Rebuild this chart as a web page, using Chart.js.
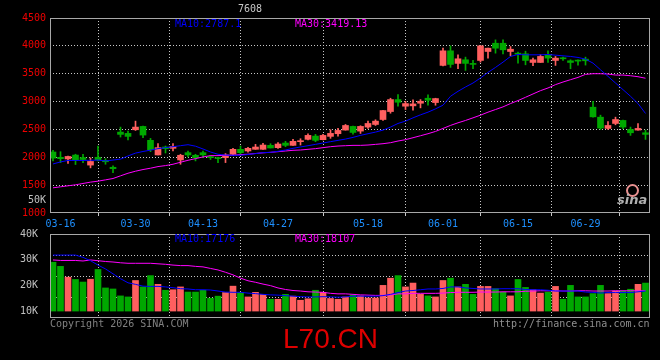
<!DOCTYPE html>
<html>
<head>
<meta charset="utf-8">
<script src="https://cdn.jsdelivr.net/npm/chart.js@4.4.1/dist/chart.umd.min.js"></script>
<style>
html, body { margin:0; padding:0; background:#000; }
#wrap { position:relative; width:660px; height:360px; overflow:hidden; background:#000;
        font-family:"DejaVu Sans Mono", monospace; font-size:10px; line-height:10px; }
canvas { position:absolute; left:0; top:0; }
.t { position:absolute; white-space:nowrap; }
</style>
</head>
<body>
<div id="wrap">
<canvas id="kChart" width="660" height="360"></canvas>
<canvas id="volChart" width="660" height="360"></canvas>

<div class="t" style="left:238px;top:4px;color:#c8c8c8">7608</div>
<div class="t" style="left:175px;top:19px;color:#0000ff">MA10:2787.1</div>
<div class="t" style="left:295px;top:19px;color:#ff00ff">MA30:3419.13</div>
<div class="t" style="left:175px;top:234px;color:#0000ff">MA10:17176</div>
<div class="t" style="left:295px;top:234px;color:#ff00ff">MA30:18107</div>
<div class="t" style="left:50px;top:319px;color:#808080">Copyright 2026 SINA.COM</div>
<div class="t" style="left:493px;top:319px;color:#909090">http://finance.sina.com.cn</div>
<div class="t" style="left:283px;top:324px;color:#dd0000;font-family:'Liberation Sans',Arial,sans-serif;font-size:28px;line-height:30px">L70.CN</div>
<div class="t" style="left:626px;top:184px;width:9px;height:9px;border:2px solid #e89090;border-radius:50%"></div>
<div class="t" style="left:617px;top:193px;color:#b0b0b0;font-family:'DejaVu Sans',sans-serif;font-size:13px;line-height:13px;font-weight:bold;font-style:italic">sina</div>
</div>

<script>
/* ==========================================================
   DATA
========================================================== */

const dates = [
    "03-13","03-16","03-17","03-18","03-19","03-20","03-23","03-24","03-25","03-26",
    "03-27","03-30","03-31","04-01","04-02","04-03","04-07","04-08","04-09","04-10",
    "04-13","04-14","04-15","04-16","04-17","04-20","04-21","04-22","04-23","04-24",
    "04-27","04-28","04-29","04-30","05-06","05-07","05-08","05-11","05-12","05-13",
    "05-14","05-15","05-18","05-19","05-20","05-21","05-22","05-25","05-26","05-27",
    "05-28","05-29","06-01","06-02","06-03","06-04","06-05","06-08","06-09","06-10",
    "06-11","06-12","06-15","06-16","06-17","06-18","06-22","06-23","06-24","06-25",
    "06-26","06-29","06-30","07-01","07-02","07-03","07-06","07-07","07-08","07-09"
];

const dateTicks = ["03-16","03-30","04-13","04-27","05-18","06-01","06-15","06-29"];

const open = [
    2095,2000,1970,2040,1995,1860,2000,1945,1821,2452,
    2429,2494,2554,2304,2042,2185,2161,1952,2083,2036,
    2083,2012,1994,1994,2054,2143,2113,2143,2143,2214,
    2173,2256,2214,2280,2322,2381,2316,2375,2423,2488,
    2554,2470,2542,2589,2678,2821,3036,2917,2923,2970,
    3060,2982,3649,3911,3685,3750,3673,3738,3899,4047,
    4047,3899,3857,3857,3702,3702,3839,3738,3780,3732,
    3738,3762,2899,2720,2518,2607,2661,2500,2488,2440
];

const close = [
    1985,1975,2015,1950,1960,1925,1952,1920,1795,2411,
    2375,2542,2399,2137,2173,2155,2196,2036,2042,1994,
    2042,1994,1976,2042,2143,2083,2161,2184,2220,2167,
    2238,2214,2286,2292,2393,2304,2393,2429,2482,2571,
    2446,2554,2607,2649,2839,3036,2988,2964,2958,3006,
    3024,3054,3911,3667,3768,3685,3667,4000,3958,3958,
    3929,3940,3851,3738,3750,3810,3780,3780,3768,3702,
    3726,3732,2726,2524,2571,2678,2542,2440,2518,2411
];

const high = [
    2125,2100,2020,2055,2055,1990,2202,1975,1845,2542,
    2470,2649,2560,2339,2244,2202,2244,2054,2113,2054,
    2113,2030,2000,2066,2160,2202,2180,2232,2250,2244,
    2262,2286,2322,2333,2423,2411,2411,2494,2518,2589,
    2560,2566,2649,2673,2845,3060,3125,3006,3030,3036,
    3119,3060,3958,4000,3839,3798,3738,4000,3958,4107,
    4107,3988,3887,3904,3780,3840,3910,3810,3798,3750,
    3750,3798,3006,2756,2643,2720,2667,2542,2607,2488
];

const low = [
    1935,1905,1890,1870,1905,1810,1935,1875,1725,2363,
    2310,2482,2351,2101,2042,2077,2113,1875,2006,1935,
    1994,1960,1905,1905,2042,2054,2090,2143,2143,2167,
    2160,2190,2214,2220,2310,2280,2310,2340,2381,2488,
    2417,2428,2518,2571,2660,2791,2917,2857,2845,2887,
    2934,2934,3640,3613,3589,3560,3589,3708,3780,3869,
    3857,3821,3690,3660,3643,3702,3702,3649,3738,3589,
    3655,3655,2720,2500,2500,2583,2512,2393,2488,2321
];

const ma10 = [
    1880,1917,1943,1943,1943,1946,1950,1935,1950,1967,
    2024,2075,2104,2128,2155,2173,2190,2208,2226,2199,
    2149,2095,2054,2039,2036,2036,2050,2066,2083,2089,
    2107,2131,2161,2185,2208,2232,2256,2280,2304,2327,
    2357,2393,2423,2452,2488,2542,2607,2649,2708,2762,
    2810,2869,2935,3095,3184,3262,3333,3423,3524,3613,
    3708,3810,3845,3839,3839,3839,3845,3833,3821,3810,
    3792,3762,3690,3571,3452,3333,3214,3095,2964,2787
];

const ma30 = [
    1452,1470,1488,1506,1530,1554,1571,1595,1619,1667,
    1714,1750,1780,1804,1833,1851,1875,1911,1946,1976,
    2006,2030,2030,2036,2036,2048,2055,2068,2080,2089,
    2101,2113,2125,2131,2143,2155,2173,2190,2202,2208,
    2214,2214,2220,2232,2244,2262,2292,2316,2351,2387,
    2423,2464,2518,2572,2619,2661,2708,2756,2810,2857,
    2905,2964,3018,3077,3137,3196,3244,3304,3351,3393,
    3434,3488,3500,3500,3494,3476,3476,3464,3446,3419
];

const volume = [
    29000,27400,23200,22300,21300,22400,26200,19000,18600,15900,
    15500,21900,19400,23800,20400,18100,18300,19400,17400,17400,
    18100,15000,15800,17200,19700,17300,15500,17300,16500,14600,
    14600,16500,15800,14200,14800,18100,17300,14900,14600,15500,
    16200,15900,15100,15100,20000,22800,23800,19400,20900,16500,
    15900,15500,21900,22800,19400,20400,16500,19600,19600,18700,
    17400,15900,22300,19200,18300,17000,17400,19600,14600,20000,
    15500,15500,16800,20000,16800,17800,17800,18500,20400,20900
];

const volMa10 = [
    31800,31800,31800,31800,30900,29600,27900,26400,24500,22600,
    21000,20400,19700,19600,19600,19400,19100,18700,18600,18300,
    18300,18200,17800,17400,17300,17300,17000,16800,16500,16300,
    16200,16000,15800,15600,15500,15500,15600,15500,15400,15500,
    15800,15800,15800,15800,16000,16500,17200,17800,18000,18300,
    18600,18600,18800,19400,19400,19000,18800,18600,18600,18600,
    18700,18700,18700,18400,18300,18300,18100,17800,17800,17800,
    17800,17400,17300,17000,17200,17200,17200,17200,17500,17800
];

const volMa30 = [
    29900,29700,29700,29700,29500,29900,29600,29300,29100,28800,
    28600,28600,28600,28600,28400,28200,27900,27700,27700,27400,
    27200,26600,26000,25100,24100,22800,21800,21200,20500,19900,
    19000,18400,18000,17800,17500,17400,17300,16900,16700,16700,
    16500,16300,16200,16100,16100,16300,16700,16700,16900,16900,
    16900,16900,17000,17200,17300,17300,17300,17400,17400,17400,
    17500,17500,17500,17700,17800,17900,17900,17900,17800,17800,
    17900,17900,17800,17800,17800,17900,17900,17900,17900,17900
];

const priceTicks = [1000,1232,1500,2000,2500,3000,3500,4000,4500];
const priceTickText = ["1000","50K","1500","2000","2500","3000","3500","4000","4500"];
const priceGrid = [1500,2000,2500,3000,3500,4000];

const volTicks = [10000,20000,30000,40000];
const volTickText = ["10K","20K","30K","40K"];


/* ==========================================================
   STYLE
========================================================== */

const upColour = "#ff5f5f";
const downColour = "#00a800";
const gridColour = "#c8c8c8";
const frameColour = "#a8a8a8";
const monoFont = { family:"'DejaVu Sans Mono', monospace", size:10 };

const candleColours = open.map((o,i) => close[i] >= o ? upColour : downColour);
const dateIdx = dateTicks.map(d => dates.indexOf(d));

function pts(arr){
    return arr.map((v,i) => ({ x:i, y:v }));
}

/* frame round the plot area */
const framePlugin = {
    id:"frame",
    afterDraw(chart){
        const a = chart.chartArea, c = chart.ctx;
        c.save();
        c.strokeStyle = frameColour;
        c.lineWidth = 1;
        c.strokeRect(a.left + 0.5, a.top + 0.5, a.right - a.left - 1, a.bottom - a.top - 1);
        c.restore();
    }
};

function xScale(showLabels){
    return {
        type:"linear",
        min:-0.4,
        max:79.6,
        offset:false,
        afterBuildTicks: s => { s.ticks = dateIdx.map(v => ({ value:v })); },
        afterFit: s => { s.height = showLabels ? 20 : 0; },
        ticks:{
            display:showLabels,
            autoSkip:false,
            maxRotation:0,
            color:"#1e90ff",
            font:monoFont,
            padding:2,
            callback: v => dates[v]
        },
        grid:{ color:gridColour, drawTicks:showLabels, tickLength:3 },
        border:{ display:false, dash:[1,2] }
    };
}


/* ==========================================================
   PRICE CHART
========================================================== */

new Chart(document.getElementById("kChart").getContext("2d"), {
    type:"bar",
    data:{
        datasets:[
            {
                data: low.map((l,i) => ({ x:i, y:[l, high[i]] })),
                backgroundColor:candleColours,
                barThickness:1,
                grouped:false,
                order:3
            },
            {
                data: open.map((o,i) => ({ x:i, y:[o, close[i]] })),
                backgroundColor:candleColours,
                barThickness:6,
                minBarLength:1,
                grouped:false,
                order:2
            },
            {
                type:"line",
                data:pts(ma30),
                borderColor:"#ff00ff",
                borderWidth:1,
                pointRadius:0,
                order:1
            },
            {
                type:"line",
                data:pts(ma10),
                borderColor:"#0000ff",
                borderWidth:1,
                pointRadius:0,
                order:0
            }
        ]
    },
    options:{
        responsive:false,
        animation:false,
        layout:{ padding:{ top:18, right:10, bottom:127, left:0 } },
        plugins:{ legend:{ display:false }, tooltip:{ enabled:false } },
        scales:{
            x:xScale(true),
            y:{
                min:1000,
                max:4500,
                afterBuildTicks: s => { s.ticks = priceTicks.map(v => ({ value:v })); },
                afterFit: s => { s.width = 50; },
                ticks:{
                    font:monoFont,
                    padding:4,
                    color: c => priceTickText[priceTicks.indexOf(c.tick.value)] === "50K" ? "#c0c0c0" : "#ee0000",
                    callback: v => priceTickText[priceTicks.indexOf(v)]
                },
                grid:{
                    drawTicks:false,
                    color: c => priceGrid.includes(c.tick.value) ? gridColour : "rgba(0,0,0,0)"
                },
                border:{ display:false, dash:[1,2] }
            }
        }
    },
    plugins:[framePlugin]
});


/* ==========================================================
   VOLUME CHART
========================================================== */

new Chart(document.getElementById("volChart").getContext("2d"), {
    type:"bar",
    data:{
        datasets:[
            {
                data:pts(volume),
                backgroundColor:candleColours,
                base:10000,
                barThickness:6,
                grouped:false,
                order:2
            },
            {
                type:"line",
                data:pts(volMa30),
                borderColor:"#ff00ff",
                borderWidth:1,
                pointRadius:0,
                order:1
            },
            {
                type:"line",
                data:pts(volMa10),
                borderColor:"#0000ff",
                borderWidth:1,
                pointRadius:0,
                order:0
            }
        ]
    },
    options:{
        responsive:false,
        animation:false,
        layout:{ padding:{ top:234, right:10, bottom:42, left:0 } },
        plugins:{ legend:{ display:false }, tooltip:{ enabled:false } },
        scales:{
            x:xScale(false),
            y:{
                min:7300,
                max:40000,
                afterBuildTicks: s => { s.ticks = volTicks.map(v => ({ value:v })); },
                afterFit: s => { s.width = 50; },
                ticks:{
                    font:monoFont,
                    padding:4,
                    color:"#c0c0c0",
                    callback: v => volTickText[volTicks.indexOf(v)]
                },
                grid:{ display:false },
                border:{ display:false }
            },
            yg:{
                position:"left",
                min:0,
                max:4,
                afterBuildTicks: s => { s.ticks = [1,2,3].map(v => ({ value:v })); },
                afterFit: s => { s.width = 0; },
                ticks:{ display:false },
                grid:{ color:gridColour, drawTicks:false },
                border:{ display:false, dash:[1,2] }
            }
        }
    },
    plugins:[framePlugin]
});
</script>
</body>
</html>
